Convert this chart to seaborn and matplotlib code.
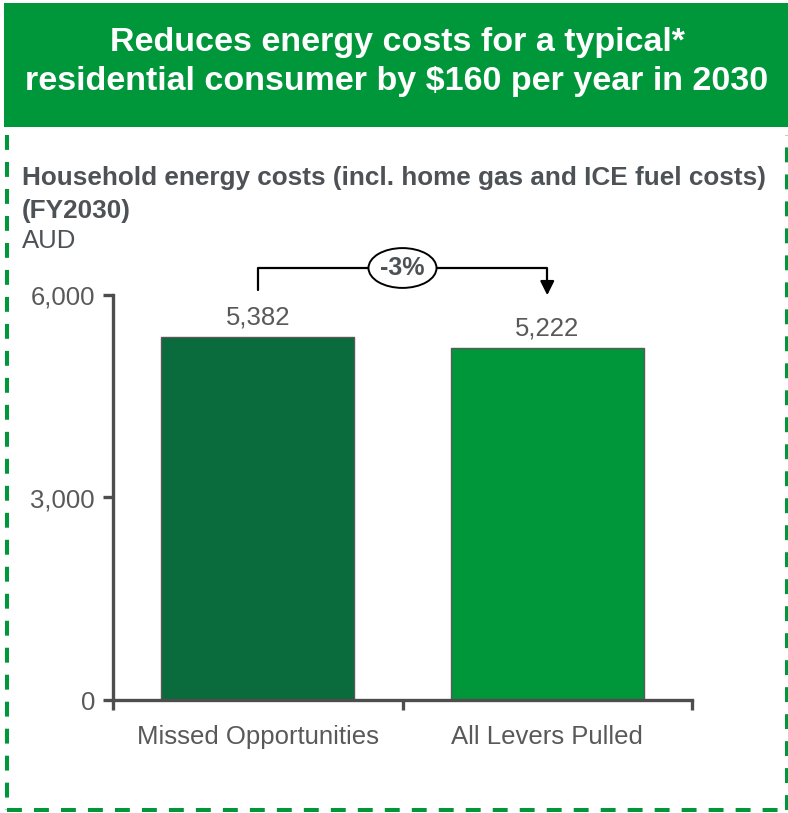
import matplotlib
matplotlib.use("Agg")
import matplotlib.pyplot as plt
import seaborn as sns
import pandas as pd
from matplotlib.patches import Rectangle, Ellipse
from matplotlib.lines import Line2D

categories = ["Missed Opportunities", "All Levers Pulled"]
values = [5382, 5222]
value_labels = ["5,382", "5,222"]
yticks = [0, 3000, 6000]
ytick_labels = ["0", "3,000", "6,000"]
change_label = "-3%"
title_lines = "Reduces energy costs for a typical*\nresidential consumer by $160 per year in 2030"
subtitle = "Household energy costs (incl. home gas and ICE fuel costs)"
subtitle2 = "(FY2030)"
unit = "AUD"

sns.set_theme(style="white")
plt.rcParams["font.family"] = ["Liberation Sans", "DejaVu Sans"]

W, H = 788, 813
fig = plt.figure(figsize=(W / 100, H / 100), dpi=100)
ax = fig.add_axes([113 / W, 1 - 700 / H, (692 - 113) / W, (700 - 295) / H])

df = pd.DataFrame({"cat": categories, "val": values})
sns.barplot(data=df, x="cat", y="val", hue="cat", palette=["#0A6B3C", "#00973A"],
            saturation=1, width=0.667, edgecolor="#595959", linewidth=1.0,
            legend=False, ax=ax)

ax.set_xlim(-0.5, 1.5)
ax.set_ylim(0, 6000)
ax.set_xlabel("")
ax.set_ylabel("")
ax.set_yticks(yticks)
ax.set_yticklabels(ytick_labels)
gray = "#595959"
axc = "#4D4D4D"
for s in ["top", "right"]:
    ax.spines[s].set_visible(False)
for s in ["left", "bottom"]:
    ax.spines[s].set_color(axc)
    ax.spines[s].set_linewidth(2.4)
ax.tick_params(axis="y", direction="out", length=7, width=2.4, color=axc,
               labelsize=18.5, labelcolor=gray, pad=6, left=True)
ax.tick_params(axis="x", which="major", length=0, labelsize=18.5, labelcolor=gray, pad=18)
ax.set_xticks([-0.5, 0.5, 1.5], minor=True)
ax.tick_params(axis="x", which="minor", direction="out", length=7, width=2.4, color=axc, bottom=True)

for i, (v, lab) in enumerate(zip(values, value_labels)):
    ax.text(i, v + 110, lab, ha="center", va="bottom", fontsize=18.5, color=gray)

# bracket annotation
yb = 6400
ax.add_line(Line2D([0, 0, 0.5 - 0.12], [6074, yb, yb], color="black", lw=1.6, clip_on=False))
ax.add_line(Line2D([0.5 + 0.12, 1, 1], [yb, yb, 6150], color="black", lw=1.6, clip_on=False))
ax.annotate("", xy=(1, 5956), xytext=(1, 6160),
            arrowprops=dict(arrowstyle="-|>,head_width=0.35,head_length=0.7", color="black", lw=1.6),
            annotation_clip=False)
ax.add_patch(Ellipse((0.5, yb), 0.235, 590, facecolor="white", edgecolor="black", lw=1.4, clip_on=False))
ax.text(0.5, yb, change_label, ha="center", va="center", fontsize=18, fontweight="bold",
        color="#4D5257", clip_on=False)

# header
fig.add_artist(Rectangle((4 / W, 1 - 127 / H), (W - 4) / W, 124 / H,
                         transform=fig.transFigure, facecolor="#00973A", edgecolor="none"))
fig.text(397 / W, 1 - 62 / H, title_lines, ha="center", va="center", color="white",
         fontsize=24.5, fontweight="bold", linespacing=1.3)

# subtitle
fig.text(22 / W, 1 - 178 / H, subtitle, ha="left", va="center", fontsize=18.8,
         fontweight="bold", color="#4D5257")
fig.text(22 / W, 1 - 211 / H, subtitle2, ha="left", va="center", fontsize=18.8,
         fontweight="bold", color="#4D5257")
fig.text(22 / W, 1 - 241 / H, unit, ha="left", va="center", fontsize=18.5, color="#4D5257")

# dashed border
dash = dict(color="#00973A", lw=2.9, linestyle=(0, (3.7, 3.0)), transform=fig.transFigure)
fig.add_artist(Line2D([6.5 / W, 6.5 / W], [1 - 135 / H, 1 - 810 / H], **dash))
fig.add_artist(Line2D([6.5 / W, 786.5 / W], [1 - 810 / H, 1 - 810 / H], **dash))
fig.add_artist(Line2D([786.5 / W, 786.5 / W], [1 - 810 / H, 1 - 135 / H], **dash))

fig.savefig("out.png", dpi=100)
